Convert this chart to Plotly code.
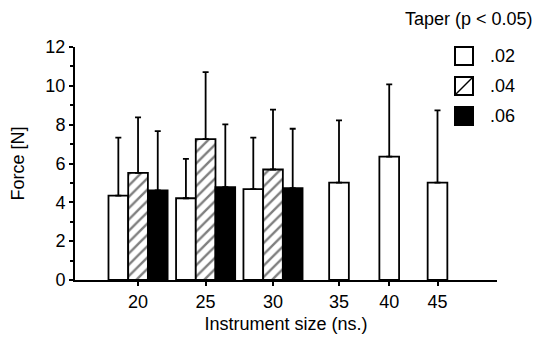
import plotly.graph_objects as go

# ---- data ----
sizes = ["20", "25", "30", "35", "40", "45"]
taper_02 = [4.35, 4.21, 4.68, 5.02, 6.35, 5.02]
sd_02 = [2.98, 2.03, 2.65, 3.20, 3.73, 3.72]
taper_04 = [5.52, 7.26, 5.69]
sd_04 = [2.86, 3.45, 3.08]
taper_06 = [4.61, 4.78, 4.73]
sd_06 = [3.06, 3.23, 3.06]
legend_labels = [".02", ".04", ".06"]

# ---- layout helpers (positions on a numeric axis, in bar-width units) ----
pos = [3.2, 6.63, 10.05, 13.4, 15.95, 18.4]
XMAX = 21.42
W, H = 540, 337
L, R, T, B = 75, 43, 47, 57
PW, PH = W - L - R, H - T - B

def px(xp):
    return (xp - L) / PW

def py(yp):
    return (H - B - yp) / PH

FONT = "Liberation Sans, Arial, sans-serif"
FS = 18
LW = 1.8

n3 = len(taper_04)
white_off = [-1.5 if i < n3 else -0.5 for i in range(len(sizes))]

fig = go.Figure()
fig.add_trace(go.Bar(
    x=pos, y=taper_02, width=1, offset=white_off,
    marker=dict(color="white", line=dict(color="black", width=LW)),
    error_y=dict(type="data", array=sd_02, arrayminus=[0] * len(sd_02),
                 symmetric=False, color="black", thickness=1.8, width=3),
    name=legend_labels[0], showlegend=False))
fig.add_trace(go.Bar(
    x=pos[:n3], y=taper_04, width=1, offset=-0.5,
    marker=dict(color="white", line=dict(color="black", width=LW),
                pattern=dict(shape="/", fgcolor="black", bgcolor="white",
                             size=8, solidity=0.3)),
    error_y=dict(type="data", array=sd_04, arrayminus=[0] * n3,
                 symmetric=False, color="black", thickness=1.8, width=3),
    name=legend_labels[1], showlegend=False))
fig.add_trace(go.Bar(
    x=pos[:n3], y=taper_06, width=1, offset=0.5,
    marker=dict(color="black", line=dict(color="black", width=LW)),
    error_y=dict(type="data", array=sd_06, arrayminus=[0] * n3,
                 symmetric=False, color="black", thickness=1.8, width=3),
    name=legend_labels[2], showlegend=False))

top_frac = (385 - L) / PW
right_frac = (H - B - 133) / PH

fig.update_layout(
    width=W, height=H,
    margin=dict(l=L, r=R, t=T, b=B),
    paper_bgcolor="white", plot_bgcolor="white",
    barmode="overlay",
    font=dict(family=FONT, size=FS, color="black"),
    xaxis=dict(range=[0, XMAX], tickvals=pos, ticktext=sizes,
               showline=True, linecolor="black", linewidth=2,
               ticks="outside", ticklen=4, tickwidth=1.5, tickcolor="black",
               showgrid=False, zeroline=False, automargin=False,
               title=dict(text="Instrument size (ns.)", standoff=7,
                          font=dict(size=FS))),
    xaxis2=dict(domain=[0, top_frac], anchor="y", side="top",
                range=[0, XMAX * top_frac], tickvals=pos[:4],
                showticklabels=False, showline=True, linecolor="black",
                linewidth=2, ticks="outside", ticklen=3, tickwidth=1.5,
                tickcolor="black", showgrid=False, zeroline=False),
    yaxis=dict(range=[0, 12], dtick=2, showline=True, linecolor="black",
               linewidth=2, ticks="outside", ticklen=4, tickwidth=1.5,
               tickcolor="black", showgrid=False, zeroline=False,
               automargin=False,
               minor=dict(dtick=1, ticks="outside", ticklen=3, tickwidth=1.5,
                          tickcolor="black"),
               title=dict(text="Force [N]", standoff=16, font=dict(size=FS))),
    yaxis2=dict(domain=[0, right_frac], anchor="x", side="right",
                range=[0, 12 * right_frac], dtick=2, showticklabels=False,
                showline=True, linecolor="black", linewidth=2,
                ticks="outside", ticklen=5, tickwidth=1.5, tickcolor="black",
                showgrid=False, zeroline=False,
                minor=dict(dtick=1, ticks="outside", ticklen=3, tickwidth=1.5,
                           tickcolor="black")),
)

# ---- manual legend ----
sq_x0, sq_x1 = 455, 473
centers = [56, 86, 116]
fills = ["white", "white", "black"]
for i, (cy, fc) in enumerate(zip(centers, fills)):
    fig.add_shape(type="rect", xref="paper", yref="paper",
                  x0=px(sq_x0), x1=px(sq_x1), y0=py(cy + 9), y1=py(cy - 9),
                  fillcolor=fc, line=dict(color="black", width=2))
    if i == 1:
        fig.add_shape(type="line", xref="paper", yref="paper",
                      x0=px(sq_x0), x1=px(sq_x1), y0=py(cy + 9), y1=py(cy - 9),
                      line=dict(color="black", width=1.5))
    fig.add_annotation(text=legend_labels[i], xref="paper", yref="paper",
                       x=px(488), y=py(cy), xanchor="left", yanchor="middle",
                       showarrow=False, font=dict(size=FS))
fig.add_annotation(text="Taper (p < 0.05)", xref="paper", yref="paper",
                   x=px(469), y=py(19), xanchor="center", yanchor="middle",
                   showarrow=False, font=dict(size=FS))

fig.write_html("out.html")
